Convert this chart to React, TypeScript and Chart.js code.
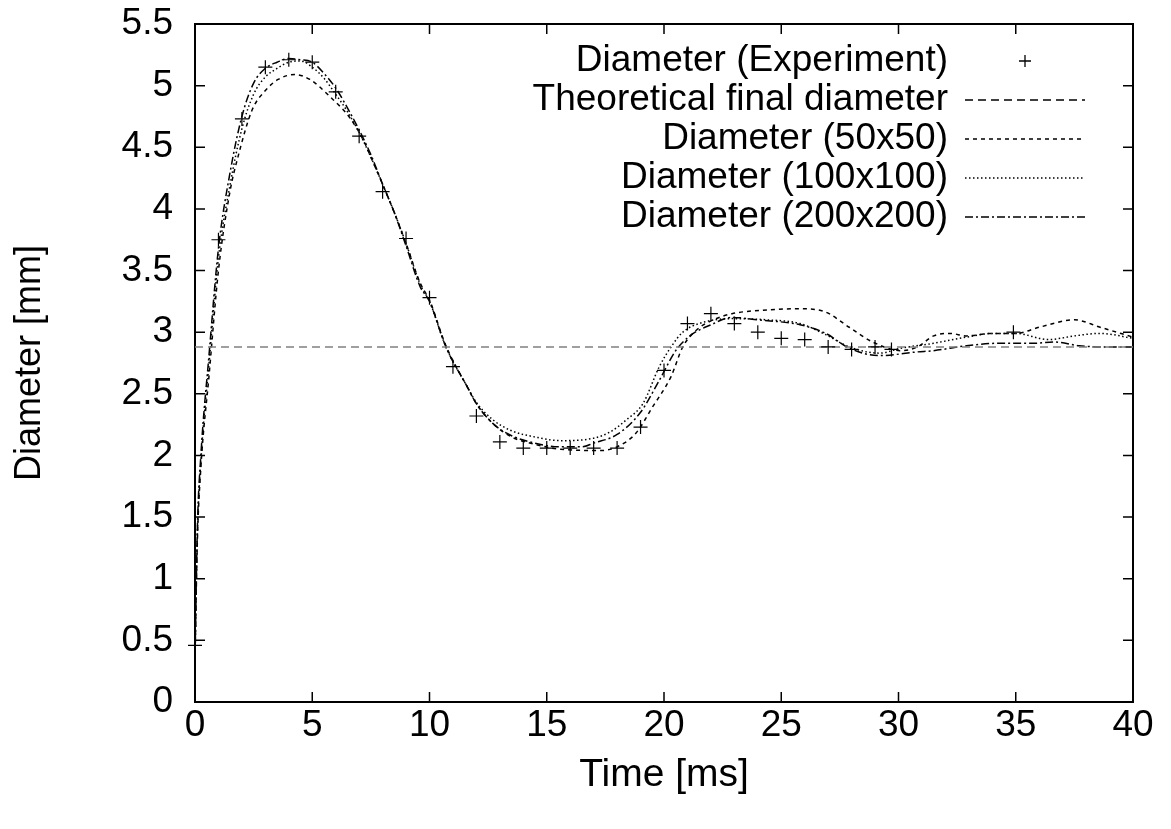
import { useEffect, useRef } from "react";
import { Chart, registerables } from "chart.js";

Chart.register(...registerables);

const FONT = "'Liberation Sans', Arial, Helvetica, sans-serif";

const legendLabels = [
  "Diameter (Experiment)",
  "Theoretical final diameter",
  "Diameter (50x50)",
  "Diameter (100x100)",
  "Diameter (200x200)",
];

const expTime = [0, 1, 2, 3, 4, 5, 6, 7, 8, 9, 10, 11, 12, 13, 14, 15, 16, 17, 18, 19, 20, 21, 22, 23, 24, 25, 26, 27, 28, 29, 29.7, 34.9];
const expDiam = [0.46, 3.75, 4.73, 5.15, 5.21, 5.19, 4.95, 4.59, 4.14, 3.76, 3.28, 2.72, 2.32, 2.11, 2.06, 2.06, 2.06, 2.06, 2.06, 2.23, 2.69, 3.07, 3.15, 3.07, 3.0, 2.95, 2.94, 2.88, 2.86, 2.88, 2.86, 3.0];

const theoTime = [0, 40];
const theoDiam = [2.88, 2.88];

const sim50Time = [0, 0.1, 0.25, 0.6, 1.0, 1.5, 1.83, 2.43, 3.0, 3.54, 4.26, 4.9, 5.76, 6.6, 7.2, 7.5, 8.0, 8.5, 9.0, 9.6, 10.0, 10.7, 11.6, 12.0, 12.7, 13.5, 14.5, 15.6, 17.3, 18.0, 18.8, 19.5, 20.3, 20.8, 21.4, 22.1, 22.9, 24.4, 25.8, 26.8, 27.9, 28.9, 30.1, 30.8, 31.5, 32.2, 32.9, 34.0, 35.0, 36.0, 37.5, 38.6, 40.0];
const sim50Diam = [0.35, 1.3, 1.9, 2.65, 3.5, 4.15, 4.42, 4.8, 4.96, 5.05, 5.09, 5.05, 4.91, 4.74, 4.55, 4.42, 4.2, 3.97, 3.72, 3.4, 3.26, 2.89, 2.56, 2.42, 2.26, 2.15, 2.09, 2.05, 2.04, 2.07, 2.18, 2.39, 2.64, 2.88, 3.02, 3.10, 3.15, 3.18, 3.19, 3.17, 3.04, 2.92, 2.85, 2.88, 2.97, 2.99, 2.97, 2.99, 2.99, 3.04, 3.10, 3.04, 2.96];

const sim100Time = [0, 0.1, 0.25, 0.6, 1.0, 1.5, 2.0, 2.5, 3.0, 3.5, 4.0, 4.5, 5.0, 5.5, 6.0, 6.5, 7.0, 7.5, 8.0, 8.5, 9.0, 9.6, 10.0, 10.7, 11.6, 12.0, 12.7, 13.5, 14.5, 15.6, 17.0, 17.7, 18.4, 19.1, 19.8, 20.3, 20.8, 21.5, 22.9, 24.4, 25.8, 26.9, 27.9, 29.2, 30.1, 31.5, 32.9, 34.0, 35.0, 36.4, 37.5, 38.6, 40.0];
const sim100Diam = [0.35, 1.35, 1.95, 2.75, 3.6, 4.2, 4.65, 4.93, 5.07, 5.14, 5.19, 5.2, 5.15, 5.06, 4.93, 4.79, 4.62, 4.42, 4.2, 3.97, 3.72, 3.39, 3.25, 2.88, 2.56, 2.43, 2.29, 2.2, 2.15, 2.12, 2.14, 2.19, 2.29, 2.42, 2.72, 2.88, 3.0, 3.07, 3.11, 3.10, 3.07, 2.98, 2.88, 2.83, 2.87, 2.91, 2.96, 2.99, 2.99, 2.94, 2.97, 2.99, 2.95];

const sim200Time = [0, 0.1, 0.25, 0.6, 1.0, 1.5, 2.0, 2.5, 3.0, 3.5, 4.0, 4.5, 5.0, 5.5, 6.0, 6.5, 7.0, 7.5, 8.0, 8.5, 9.0, 9.6, 10.0, 10.7, 11.6, 12.0, 12.7, 13.5, 14.5, 15.5, 16.5, 17.0, 18.0, 19.0, 19.8, 20.5, 21.1, 22.0, 22.9, 24.0, 25.8, 26.9, 27.9, 29.2, 30.8, 31.5, 32.9, 34.3, 35.7, 36.7, 37.7, 39.0, 40.0];
const sim200Diam = [0.35, 1.4, 2.0, 2.82, 3.68, 4.3, 4.75, 5.02, 5.14, 5.19, 5.22, 5.21, 5.19, 5.1, 4.98, 4.82, 4.64, 4.44, 4.2, 3.97, 3.7, 3.37, 3.25, 2.88, 2.56, 2.42, 2.26, 2.16, 2.1, 2.07, 2.07, 2.10, 2.17, 2.35, 2.61, 2.85, 2.97, 3.06, 3.12, 3.1, 3.06, 2.99, 2.87, 2.81, 2.84, 2.85, 2.89, 2.91, 2.91, 2.92, 2.89, 2.88, 2.88];

const xMin = 0, xMax = 40, xStep = 5;
const yMin = 0, yMax = 5.5, yStep = 0.5;

const pts = (xs: number[], ys: number[]) => xs.map((x, i) => ({ x, y: ys[i] }));

const framePlugin = {
  id: "frame",
  beforeDatasetsDraw(chart: any) {
    const { ctx, chartArea: a, scales } = chart;
    ctx.save();
    ctx.strokeStyle = "#000";
    ctx.lineWidth = 2;
    ctx.strokeRect(a.left, a.top, a.right - a.left, a.bottom - a.top);
    ctx.lineWidth = 1.5;
    ctx.beginPath();
    scales.x.ticks.forEach((t: any) => {
      const p = scales.x.getPixelForValue(t.value);
      ctx.moveTo(p, a.bottom);
      ctx.lineTo(p, a.bottom - 10);
      ctx.moveTo(p, a.top);
      ctx.lineTo(p, a.top + 10);
    });
    scales.y.ticks.forEach((t: any) => {
      const p = scales.y.getPixelForValue(t.value);
      ctx.moveTo(a.left, p);
      ctx.lineTo(a.left + 10, p);
      ctx.moveTo(a.right, p);
      ctx.lineTo(a.right - 10, p);
    });
    ctx.stroke();
    ctx.restore();
  },
  afterDraw(chart: any) {
    const { ctx, chartArea: a } = chart;
    ctx.save();
    ctx.font = `37px ${FONT}`;
    ctx.fillStyle = "#000";
    ctx.textAlign = "right";
    ctx.textBaseline = "middle";
    chart.data.datasets.forEach((ds: any, i: number) => {
      const y = a.top + 37 + i * 39;
      ctx.fillText(ds.label, a.right - 185, y);
      ctx.strokeStyle = "#000";
      ctx.lineWidth = 1.3;
      if (ds.showLine === false) {
        const cx = a.right - 108;
        ctx.setLineDash([]);
        ctx.beginPath();
        ctx.moveTo(cx - 6, y);
        ctx.lineTo(cx + 6, y);
        ctx.moveTo(cx, y - 6);
        ctx.lineTo(cx, y + 6);
        ctx.stroke();
      } else {
        ctx.setLineDash(ds.borderDash || []);
        ctx.beginPath();
        ctx.moveTo(a.right - 168, y);
        ctx.lineTo(a.right - 48, y);
        ctx.stroke();
      }
    });
    ctx.restore();
  },
};

export default function App() {
  const ref = useRef<HTMLCanvasElement>(null);
  useEffect(() => {
    document.body.style.margin = "0";
    const canvas = ref.current!;
    const lineBase = {
      showLine: true,
      pointRadius: 0,
      borderColor: "#000",
      borderWidth: 1.5,
      fill: false,
      cubicInterpolationMode: "monotone" as const,
    };
    const chart = new Chart(canvas, {
      type: "line",
      data: {
        datasets: [
          {
            label: legendLabels[0],
            data: pts(expTime, expDiam),
            showLine: false,
            pointStyle: "cross",
            pointRadius: 7,
            pointBorderWidth: 1.2,
            pointBorderColor: "#000",
            borderColor: "#000",
            clip: 12,
          } as any,
          {
            ...lineBase,
            label: legendLabels[1],
            data: pts(theoTime, theoDiam),
            borderColor: "#808080",
            borderDash: [8, 5],
            cubicInterpolationMode: "default",
          } as any,
          {
            ...lineBase,
            label: legendLabels[2],
            data: pts(sim50Time, sim50Diam),
            borderDash: [4, 4],
          } as any,
          {
            ...lineBase,
            label: legendLabels[3],
            data: pts(sim100Time, sim100Diam),
            borderDash: [1.5, 2.5],
          } as any,
          {
            ...lineBase,
            label: legendLabels[4],
            data: pts(sim200Time, sim200Diam),
            borderDash: [8, 3, 2, 3],
          } as any,
        ],
      },
      options: {
        animation: false,
        responsive: false,
        layout: { padding: { top: 24, right: 38, left: 0, bottom: 0 } },
        plugins: { legend: { display: false }, tooltip: { enabled: false } },
        scales: {
          x: {
            type: "linear",
            min: xMin,
            max: xMax,
            grid: { display: false, drawTicks: false },
            border: { display: false },
            ticks: {
              stepSize: xStep,
              autoSkip: false,
              maxRotation: 0,
              color: "#000",
              font: { family: FONT, size: 37 },
              padding: 2,
              callback: (v: any) => String(v),
            },
            title: {
              display: true,
              text: "Time [ms]",
              color: "#000",
              font: { family: FONT, size: 39 },
              padding: { top: 0, bottom: 30 },
            },
            afterFit: (s: any) => {
              s.height = 127;
              s.paddingLeft = 0;
              s.paddingRight = 0;
            },
          },
          y: {
            type: "linear",
            min: yMin,
            max: yMax,
            grid: { display: false, drawTicks: false },
            border: { display: false },
            ticks: {
              stepSize: yStep,
              autoSkip: false,
              color: "#000",
              font: { family: FONT, size: 37 },
              padding: 22,
              callback: (v: any) => String(v),
            },
            title: {
              display: true,
              text: "Diameter [mm]",
              color: "#000",
              font: { family: FONT, size: 36 },
              padding: { top: 8, bottom: 0 },
            },
            afterFit: (s: any) => {
              s.width = 195;
              s.paddingTop = 0;
              s.paddingBottom = 0;
            },
          },
        },
      },
      plugins: [framePlugin],
    });
    return () => chart.destroy();
  }, []);
  return (
    <div style={{ width: 1171, height: 829 }}>
      <canvas ref={ref} width={1171} height={829} style={{ display: "block" }} />
    </div>
  );
}
